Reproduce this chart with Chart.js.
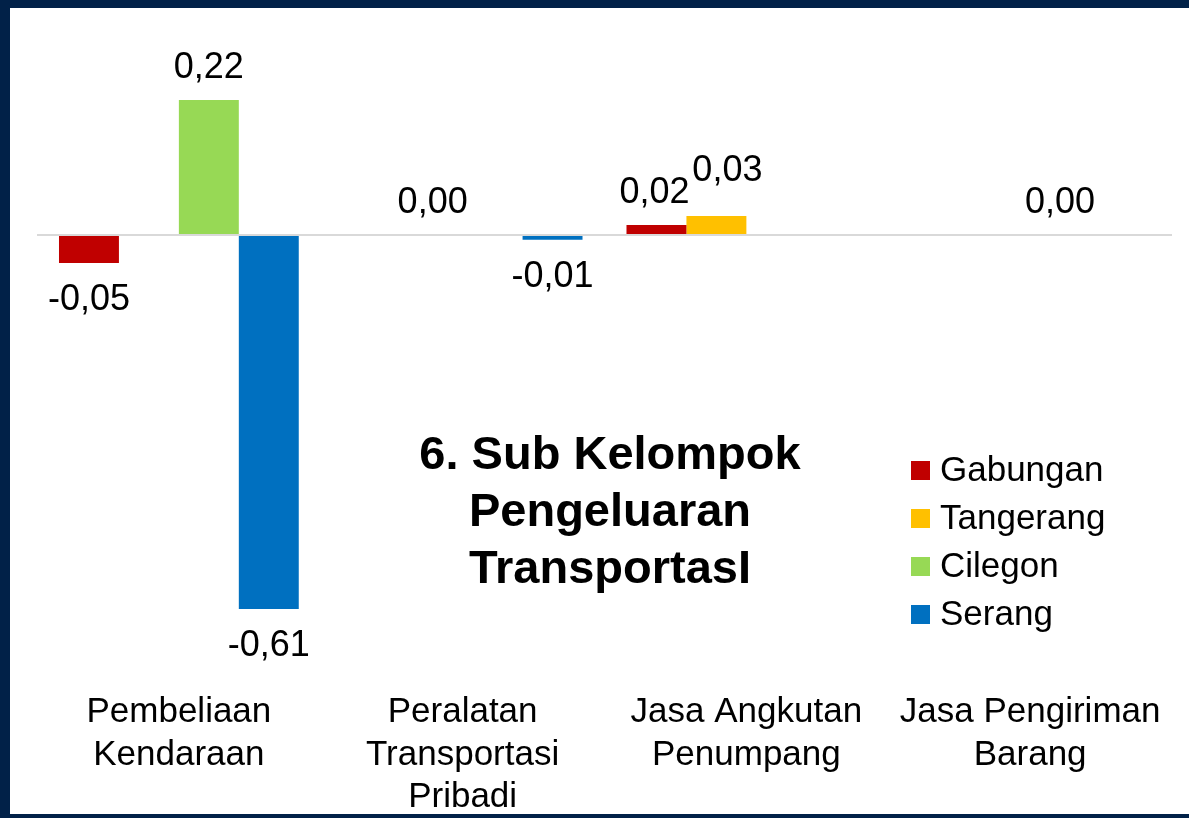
<!DOCTYPE html>
<html>
<head>
<meta charset="utf-8">
<script src="https://cdn.jsdelivr.net/npm/chart.js@4"></script>
<style>
  html, body { margin: 0; padding: 0; }
  body { width: 1189px; height: 818px; background: #012148; position: relative; overflow: hidden; }
  #panel { position: absolute; left: 10px; top: 8px; width: 1179px; height: 806px; background: #ffffff; }
  #c { display: block; }
</style>
</head>
<body>
<div id="panel"><canvas id="c" width="1179" height="806"></canvas></div>
<script>
const categories = [
  ['Pembeliaan', 'Kendaraan'],
  ['Peralatan', 'Transportasi', 'Pribadi'],
  ['Jasa Angkutan', 'Penumpang'],
  ['Jasa Pengiriman', 'Barang']
];
const seriesNames = ['Gabungan', 'Tangerang', 'Cilegon', 'Serang'];
const gabungan  = [-0.046, null, 0.016, null];
const tangerang = [null, 0.00, 0.031, null];
const cilegon   = [0.22, null, null, 0.00];
const serang    = [-0.61, -0.008, null, null];
const seriesColors = ['#C00000', '#FFC000', '#97D955', '#0070C0'];
const titleLines = ['6. Sub Kelompok', 'Pengeluaran', 'TransportasI'];

const FONT = '"Liberation Sans", Arial, Helvetica, sans-serif';

// label nudges (style only): [datasetIndex, pointIndex, dx, dy]
const labelNudges = [[1, 2, 11, -13], [0, 2, -2, 0]];

const valueLabels = {
  id: 'valueLabels',
  afterDatasetsDraw(chart) {
    const ctx = chart.ctx;
    ctx.save();
    ctx.font = '36px ' + FONT;
    ctx.fillStyle = '#000';
    ctx.textAlign = 'center';
    ctx.textBaseline = 'middle';
    chart.data.datasets.forEach((ds, di) => {
      const meta = chart.getDatasetMeta(di);
      ds.data.forEach((v, i) => {
        if (v === null || v === undefined) return;
        const el = meta.data[i];
        let dx = 0, dy = 0;
        labelNudges.forEach(n => { if (n[0] === di && n[1] === i) { dx = n[2]; dy = n[3]; } });
        const y = v >= 0 ? el.y - 32 + dy : el.y + 37 + dy;
        const txt = v.toFixed(2).replace('.', ',').replace(/^-0,00$/, '0,00');
        ctx.fillText(txt, el.x + dx, y);
      });
    });
    ctx.restore();
  }
};

const overlay = {
  id: 'overlay',
  afterDraw(chart) {
    const ctx = chart.ctx;
    ctx.save();
    // title inside plot
    ctx.font = 'bold 47px ' + FONT;
    ctx.fillStyle = '#000';
    ctx.textAlign = 'center';
    ctx.textBaseline = 'middle';
    titleLines.forEach((t, i) => ctx.fillText(t, 600, 448 + i * 57));
    // legend
    ctx.font = '35px ' + FONT;
    ctx.textAlign = 'left';
    chart.data.datasets.forEach((ds, i) => {
      const y = 462 + i * 48;
      ctx.fillStyle = ds.backgroundColor;
      ctx.fillRect(901, y - 9, 19, 19);
      ctx.fillStyle = '#000';
      ctx.fillText(ds.label, 930, y + 1);
    });
    ctx.restore();
  }
};

const seriesData = [gabungan, tangerang, cilegon, serang];

new Chart(document.getElementById('c'), {
  type: 'bar',
  data: {
    labels: categories,
    datasets: seriesNames.map((n, i) => ({
      label: n,
      data: seriesData[i],
      backgroundColor: seriesColors[i],
      borderWidth: 0,
      categoryPercentage: 0.845,
      barPercentage: 1.0
    }))
  },
  options: {
    responsive: false,
    animation: false,
    events: [],
    layout: { padding: { left: 27, right: 17, top: 43, bottom: 0 } },
    plugins: { legend: { display: false }, tooltip: { enabled: false }, title: { display: false } },
    scales: {
      x: {
        grid: { display: false, drawTicks: false },
        border: { display: false },
        ticks: {
          color: '#000',
          font: { family: FONT, size: 35, lineHeight: 1.22 },
          maxRotation: 0,
          autoSkip: false,
          padding: 11
        },
        afterFit(scale) { scale.height = 134; }
      },
      y: {
        min: -0.726,
        max: 0.3,
        ticks: { display: false },
        grid: {
          drawTicks: false,
          lineWidth: 2,
          color: (c) => (c.tick && c.tick.value === 0 ? '#D9D9D9' : 'rgba(0,0,0,0)')
        },
        border: { display: false },
        afterBuildTicks(scale) { scale.ticks = [{ value: 0 }]; },
        afterFit(scale) { scale.width = 0; }
      }
    }
  },
  plugins: [valueLabels, overlay]
});
</script>
</body>
</html>
